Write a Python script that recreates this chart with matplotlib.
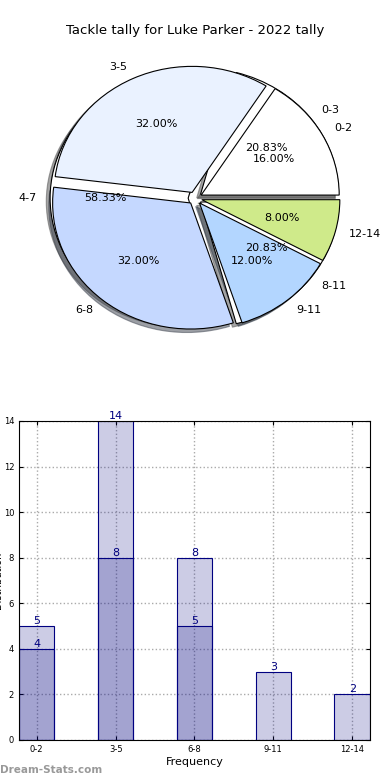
import matplotlib
matplotlib.use("Agg")
import matplotlib.pyplot as plt
import numpy as np

# pie data: two overlaid pies
groups_a = ['0-3', '4-7', '8-11']
tally_a = [5, 14, 5]
groups_b = ['0-2', '3-5', '6-8', '9-11', '12-14']
tally_b = [4, 8, 8, 3, 2]
colors_b = ['#ffffff', '#eaf2ff', '#c5d8ff', '#b3d6ff', '#cfea8a']

# bar data
bins = ['0-2', '3-5', '6-8', '9-11', '12-14']
freq_light = [5, 14, 8, 3, 2]
freq_dark = [4, 8, 5]

fig = plt.figure(figsize=(3.9, 7.8), dpi=100)
fig.text(0.5, 0.961, 'Tackle tally for Luke Parker - 2022 tally',
         ha='center', va='center', fontsize=9.5)

# pie
ax1 = fig.add_axes([0.0577, 0.544, 0.885, 0.404])
wedge_kw = dict(edgecolor='black', linewidth=0.8)
ax1.pie(tally_a, labels=groups_a, explode=[0.05] * 3, autopct='%.2f%%',
        colors=['#ffffff'] * 3, shadow=True, wedgeprops=wedge_kw,
        textprops=dict(fontsize=8))
ax1.pie(tally_b, labels=groups_b, explode=[0.05] * 5, autopct='%.2f%%',
        colors=colors_b, shadow=True, wedgeprops=wedge_kw,
        textprops=dict(fontsize=8))
ax1.set_aspect('auto')
ax1.set_xlim(-1.25, 1.25)
ax1.set_ylim(-1.25, 1.25)

# bars
ax2 = fig.add_axes([0.0487, 0.0513, 0.9, 0.409])
ax2.set_axisbelow(True)
x = np.arange(len(bins))
face = (0, 0, 0.5, 0.2)
ax2.bar(x, freq_light, width=0.45, color=face, edgecolor='navy', linewidth=0.8)
ax2.bar(x[:len(freq_dark)], freq_dark, width=0.45, color=face,
        edgecolor='navy', linewidth=0.8)
for xi, v in zip(x, freq_light):
    ax2.text(xi, v, str(v), ha='center', va='bottom', color='navy', fontsize=8)
for xi, v in zip(x, freq_dark):
    ax2.text(xi, v, str(v), ha='center', va='bottom', color='navy', fontsize=8)

ax2.set_xlim(-0.225, 4.225)
ax2.set_ylim(0, 14)
ax2.set_xticks(x)
ax2.set_xticklabels(bins)
ax2.set_yticks(range(0, 15, 2))
ax2.tick_params(labelsize=6, direction='in', top=True, right=True, length=3)
ax2.grid(True, linestyle=':', color='#aaaaaa', linewidth=1)
ax2.set_xlabel('Frequency', fontsize=8, labelpad=2)
ax2.set_ylabel('Distribution', fontsize=7)
ax2.yaxis.set_label_coords(-0.045, 0.5)

fig.text(0.0, 0.013, 'Dream-Stats.com', color='#999999', fontsize=7.5,
         fontweight='bold', ha='left', va='center')

fig.savefig('out.png', dpi=100)
